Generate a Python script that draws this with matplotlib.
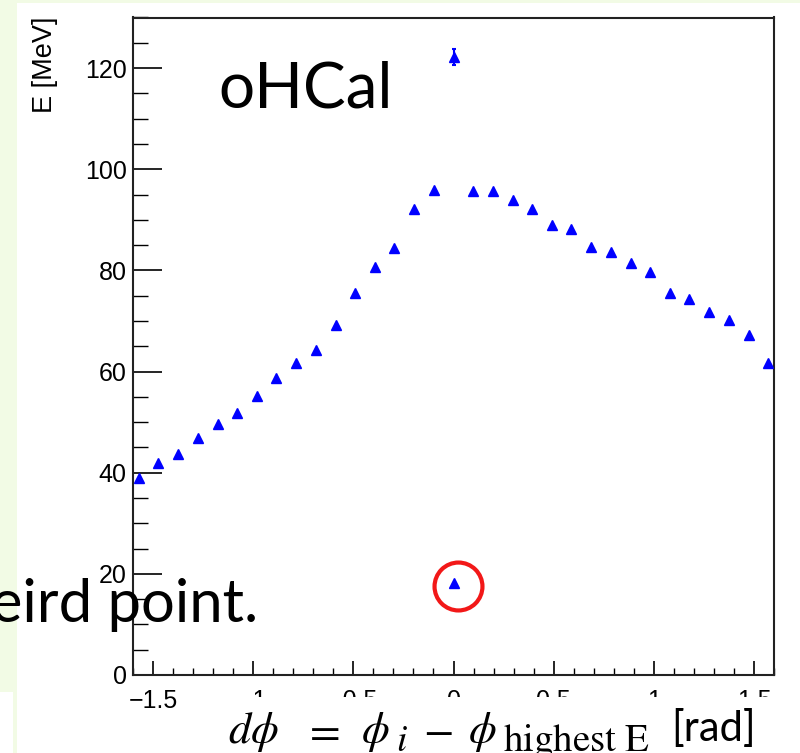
import numpy as np
import matplotlib
matplotlib.use("Agg")
import matplotlib.pyplot as plt
from matplotlib.patches import Rectangle
from matplotlib.ticker import MultipleLocator, FuncFormatter
import matplotlib.transforms as mtransforms

# Tower-to-leading-tower azimuthal distance [rad]
dphi = [-1.571, -1.473, -1.374, -1.276, -1.178, -1.080, -0.982, -0.884,
        -0.785, -0.687, -0.589, -0.491, -0.393, -0.295, -0.196, -0.098,
        0.000, 0.098, 0.196, 0.295, 0.393, 0.491, 0.589, 0.687,
        0.785, 0.884, 0.982, 1.080, 1.178, 1.276, 1.374, 1.473, 1.571]
# Mean tower energy [MeV]
energy = [39.0, 41.9, 43.6, 46.8, 49.6, 51.8, 55.2, 58.7,
          61.7, 64.3, 69.2, 75.6, 80.6, 84.4, 92.1, 95.9,
          122.2, 95.7, 95.6, 93.9, 92.1, 88.9, 88.1, 84.7,
          83.7, 81.4, 79.6, 75.5, 74.4, 71.7, 70.2, 67.2, 61.6]
energy_err = [0.0] * 16 + [1.6] + [0.0] * 16

# Outlier entry at dphi = 0
weird_dphi = [0.0]
weird_energy = [18.1]

W, H, DPI = 800, 753, 100
SLIDE_GREEN = "#F2FBE5"
fig = plt.figure(figsize=(W / DPI, H / DPI), dpi=DPI, facecolor=SLIDE_GREEN)


def px_rect(x0, y0, x1, y1, **kw):
    """Rectangle given in pixel coordinates measured from the top-left corner."""
    return Rectangle((x0 / W, 1 - y1 / H), (x1 - x0) / W, (y1 - y0) / H,
                     transform=fig.transFigure, **kw)


def px_text(x, y, s, **kw):
    """Figure text anchored at a pixel position measured from the top-left corner."""
    return fig.text(x / W, 1 - y / H, s, **kw)


fig.patches.append(px_rect(17, 3, 800, 753, facecolor="white", edgecolor="none", zorder=-2))
fig.patches.append(px_rect(0, 692, 13, 753, facecolor="white", edgecolor="none", zorder=-2))

ax = fig.add_axes([133 / W, 1 - 675 / H, (774 - 133) / W, (675 - 17.5) / H])
ax.set_facecolor("white")
ax.set_xlim(-1.6, 1.6)
ax.set_ylim(0, 130)

for side in ["left", "bottom", "right", "top"]:
    ax.spines[side].set_linewidth(1.5)
    ax.spines[side].set_color("#222222")

ax.xaxis.set_major_locator(MultipleLocator(0.5))
ax.xaxis.set_minor_locator(MultipleLocator(0.1))
ax.yaxis.set_major_locator(MultipleLocator(20))
ax.yaxis.set_minor_locator(MultipleLocator(5))
ax.xaxis.set_major_formatter(FuncFormatter(lambda v, p: ("%g" % v).replace("-", "\u2212")))

tick_font = "Liberation Sans"
ax.tick_params(axis="x", which="major", direction="in", length=10, width=1.2,
               pad=10.0, labelsize=18, top=False)
ax.tick_params(axis="x", which="minor", direction="in", length=5, width=1.0, top=False)
ax.tick_params(axis="y", which="major", direction="in", length=21, width=1.2,
               pad=4.5, labelsize=18, right=False)
ax.tick_params(axis="y", which="minor", direction="in", length=10.5, width=1.0, right=False)
for lab in ax.get_xticklabels() + ax.get_yticklabels():
    lab.set_family(tick_font)

# Main profile
dphi_a = np.array(dphi)
energy_a = np.array(energy)
err_a = np.array(energy_err)
ax.plot(dphi_a, energy_a, linestyle="none", marker="^", ms=7.6,
        color="#0000FF", mec="#0000FF", clip_on=False, zorder=3)
has_err = err_a > 0
ax.errorbar(dphi_a[has_err], energy_a[has_err], yerr=err_a[has_err], fmt="none",
            ecolor="#0000FF", elinewidth=1.5, capsize=1.6, capthick=1.5, zorder=3)

# Outlier and its highlight ring
ax.plot(weird_dphi, weird_energy, linestyle="none", marker="^", ms=7.6,
        color="#0000FF", zorder=3)
ring_tf = ax.transData + mtransforms.ScaledTranslation(4.7 / DPI, -2.4 / DPI, fig.dpi_scale_trans)
ax.plot(weird_dphi, weird_energy, linestyle="none", marker="o", ms=34.5,
        mfc="none", mec="#F21818", mew=3.0, transform=ring_tf, clip_on=False, zorder=4)

# Vertical axis title
px_text(44.5, 17, "E [MeV]", rotation=90, ha="center", va="top",
        fontsize=19.5, family=tick_font)

# White band under the axis holding the horizontal title
fig.patches.append(px_rect(205, 697, 800, 753, facecolor="white", edgecolor="none", zorder=1))

math_kw = dict(math_fontfamily="stix", ha="left", va="baseline", zorder=3)
base, sub_base = 743, 751
px_text(228, base, r"$d\phi$", fontsize=32, **math_kw)
px_text(303, base, r"$=$", fontsize=32, **math_kw)
px_text(361, base, r"$\phi$", fontsize=32, **math_kw)
px_text(396, sub_base, r"$i$", fontsize=27, **math_kw)
px_text(423, base, r"$-$", fontsize=32, **math_kw)
px_text(468, base, r"$\phi$", fontsize=32, **math_kw)
px_text(503, sub_base, r"$\mathrm{highest\ E}$", fontsize=28, **math_kw)
px_text(756, 741, "[rad]", fontsize=30, family="Lato", ha="right", va="baseline", zorder=3)

# Slide annotations
px_text(218, 108, "oHCal", fontsize=46, family="Lato", ha="left", va="baseline", zorder=3)
px_text(258, 622, "Weird point.", fontsize=43, family="Lato", ha="right", va="baseline", zorder=3)

fig.savefig("out.png", dpi=DPI, facecolor=SLIDE_GREEN)
